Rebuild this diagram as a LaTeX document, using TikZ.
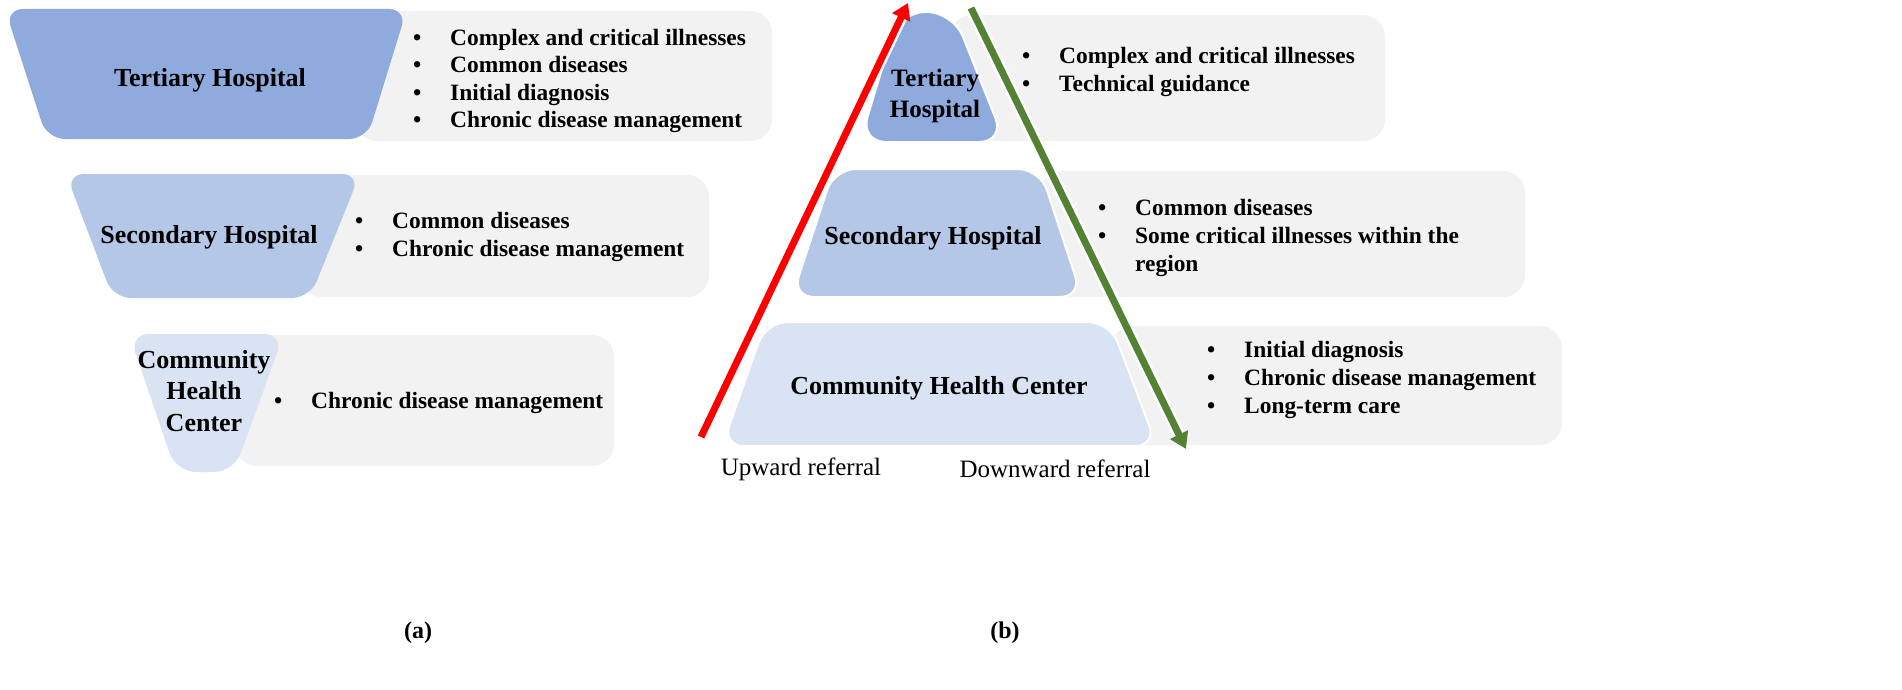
\documentclass[tikz,border=0pt]{standalone}
\usepackage{fontspec}
\setmainfont{Liberation Serif}
\usetikzlibrary{arrows.meta}
\definecolor{tcol}{HTML}{8FAADC}
\definecolor{scol}{HTML}{B4C7E7}
\definecolor{ccol}{HTML}{DAE3F3}
\definecolor{gbox}{HTML}{F2F2F2}
\definecolor{upred}{HTML}{FF0000}
\definecolor{downgreen}{HTML}{548235}
\newcommand\bul{\makebox[37pt][l]{\textbullet}}
\begin{document}
\begin{tikzpicture}[x=1pt,y=-1pt,
  graybox/.style={fill=gbox, rounded corners=22pt},
  tier/.style={rounded corners=18pt},
  ptier/.style={rounded corners=22pt, draw=white, line width=2pt},
  title/.style={font=\fontsize{26}{31.5}\selectfont\bfseries, align=center, inner sep=0pt},
  list/.style={font=\fontsize{23.4}{27.6}\selectfont\bfseries, align=left, inner sep=0pt, anchor=west},
  lbl/.style={font=\fontsize{25}{30}\selectfont, inner sep=0pt},
  captext/.style={font=\fontsize{24}{30}\selectfont\bfseries, inner sep=0pt},
  refarrow/.style={line width=7pt, -{Triangle[length=16pt,width=19pt]}},
  halo/.style={white, line width=12pt, shorten >=16pt},
]
\useasboundingbox (0,0) rectangle (1902,690);

% ---------- (a) ----------
\fill[graybox] (355,11) rectangle (772,141);
\fill[tier, tcol] (5,9) -- (407,9) -- (367,139) -- (47,139) -- cycle;
\node[title] (a1) at (210,80) {Tertiary Hospital};
\node[list] (al1) at (413,81) {\bul Complex and critical illnesses\\ \bul Common diseases\\ \bul Initial diagnosis\\ \bul Chronic disease management};

\fill[graybox] (300,175) rectangle (709,297);
\fill[tier, scol] (66,174) -- (360,174) -- (310,298) -- (113,298) -- cycle;
\node[title] (a2) at (209,237) {Secondary Hospital};
\node[list] (al2) at (355,237) {\bul Common diseases\\ \bul Chronic disease management};

\fill[graybox] (235,335) rectangle (614,466);
\fill[rounded corners=20pt, ccol] (129,334) -- (284,334) -- (234,472) -- (176,472) -- cycle;
\node[title] (a3) at (204,391) {Community\\ Health\\ Center};
\node[list] (al3) at (274,403) {\bul Chronic disease management};

\node[captext] (capa) at (418,633) {(a)};

% ---------- (b) ----------
\fill[graybox] (950,15) rectangle (1385,141);
\filldraw[ptier, rounded corners=26pt, fill=tcol] (860,142) -- (899,12) -- (953,12) -- (1005,142) -- cycle;
\node[title, font=\fontsize{25}{31}\selectfont\bfseries] (b1) at (935,96) {Tertiary\\ Hospital};
\node[list] (bl1) at (1022,72) {\bul Complex and critical illnesses\\ \bul Technical guidance};

\fill[graybox] (1040,171) rectangle (1525,297);
\filldraw[ptier, fill=scol] (792,297) -- (834,169) -- (1040,169) -- (1082,297) -- cycle;
\node[title] (b2) at (933,238) {Secondary Hospital};
\node[list] (bl2) at (1098,238) {\bul Common diseases\\ \bul Some critical illnesses within the\\ \hspace*{37pt}region};

\fill[graybox] (1111,326) rectangle (1562,445);
\filldraw[ptier, fill=ccol] (722,446) -- (766,322) -- (1110,322) -- (1157,446) -- cycle;
\node[title] (b3) at (939,388) {Community Health Center};
\node[list] (bl3) at (1207,380) {\bul Initial diagnosis\\ \bul Chronic disease management\\ \bul Long-term care};

\coordinate (upS) at (701,437);
\coordinate (upE) at (908,3);
\coordinate (dnS) at (971,8);
\coordinate (dnE) at (1186,449);
\draw[halo] (upS) -- (upE);
\draw[halo] (dnS) -- (dnE);
\draw[refarrow, upred] (upS) -- (upE);
\draw[refarrow, downgreen] (dnS) -- (dnE);

\node[lbl] (upl) at (801,469) {Upward referral};
\node[lbl] (dnl) at (1055,469) {Downward referral};
\node[captext] (capb) at (1005,633) {(b)};
\end{tikzpicture}
\end{document}
